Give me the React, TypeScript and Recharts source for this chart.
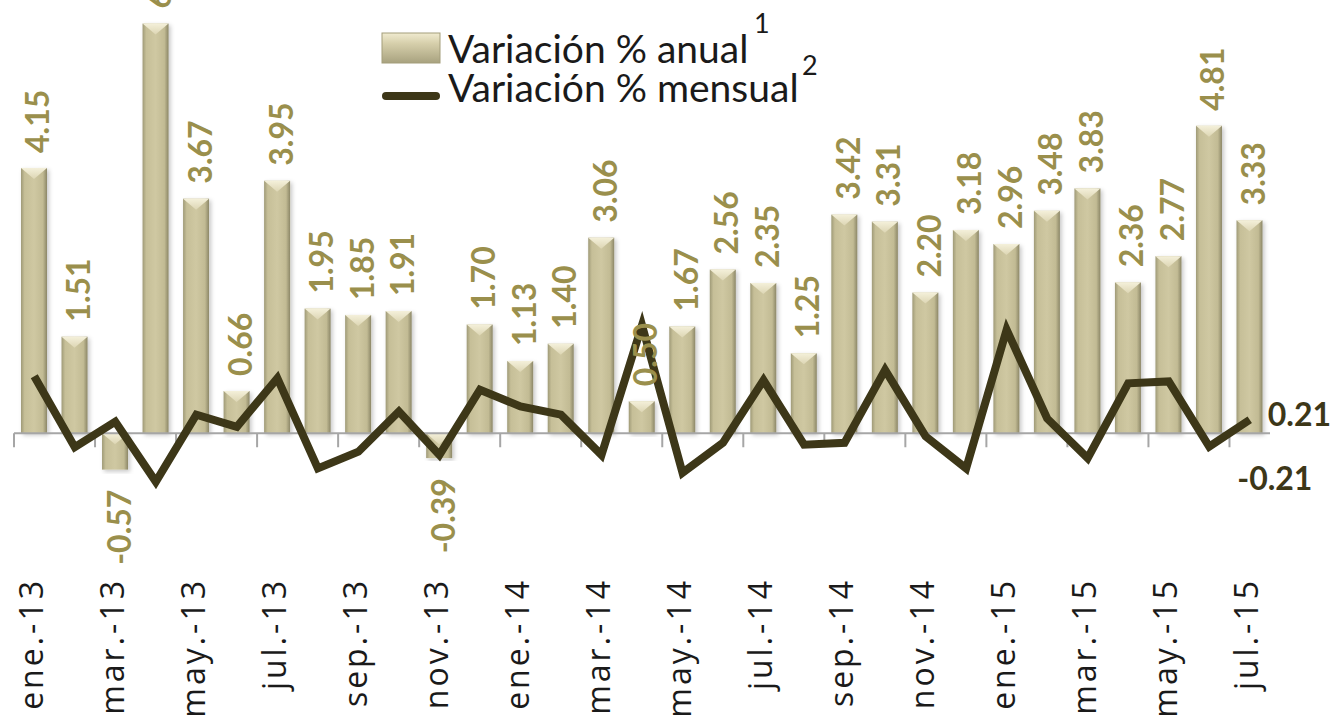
import { ComposedChart, Bar, Line, XAxis, YAxis, ReferenceLine, LabelList, Legend } from 'recharts';

const months = [
  'ene.-13', 'feb.-13', 'mar.-13', 'abr.-13', 'may.-13', 'jun.-13', 'jul.-13', 'ago.-13',
  'sep.-13', 'oct.-13', 'nov.-13', 'dic.-13', 'ene.-14', 'feb.-14', 'mar.-14', 'abr.-14',
  'may.-14', 'jun.-14', 'jul.-14', 'ago.-14', 'sep.-14', 'oct.-14', 'nov.-14', 'dic.-14',
  'ene.-15', 'feb.-15', 'mar.-15', 'abr.-15', 'may.-15', 'jun.-15', 'jul.-15',
];

// variación % anual (barras)
const annual = [
  4.15, 1.51, -0.57, 6.41, 3.67, 0.66, 3.95, 1.95, 1.85, 1.91, -0.39, 1.7, 1.13, 1.4, 3.06, 0.5,
  1.67, 2.56, 2.35, 1.25, 3.42, 3.31, 2.2, 3.18, 2.96, 3.48, 3.83, 2.36, 2.77, 4.81, 3.33,
];

// variación % mensual (línea)
const monthly = [
  0.89, -0.22, 0.18, -0.76, 0.29, 0.1, 0.86, -0.55, -0.29, 0.34, -0.34, 0.68, 0.42, 0.29, -0.34, 1.69,
  -0.62, -0.15, 0.83, -0.18, -0.15, 0.99, -0.05, -0.55, 1.62, 0.23, -0.39, 0.78, 0.81, -0.21, 0.21,
];

const tickMonths = months.filter((_, i) => i % 2 === 0);

const data = months.map((m, i) => ({ month: m, anual: annual[i], mensual: monthly[i] }));

const BAR_LABEL = '#9a8f4c';
const LINE_COLOR = '#3d3718';
const LABEL_FONT = 'Lato, "Open Sans", sans-serif';

function BevelBar(props: any) {
  const { x, y, width, height } = props;
  if (x == null || y == null) return null;
  const top = Math.min(y, y + height);
  const h = Math.abs(height);
  const bev = Math.min(11, h / 2);
  return (
    <g filter="url(#barShadow)">
      <rect x={x} y={top} width={width} height={h} fill="url(#barBody)" />
      <polygon
        points={`${x},${top} ${x + width},${top} ${x + width / 2},${top + bev}`}
        fill="url(#barTop)"
      />
    </g>
  );
}

function BarValue(props: any) {
  const { x, y, width, height, value } = props;
  if (value == null) return null;
  const cx = x + width / 2 + 3;
  const top = Math.min(y, y + height);
  const bottom = Math.max(y, y + height);
  const neg = value < 0;
  const ay = neg ? bottom + 20 : top - 15;
  return (
    <text
      x={cx}
      y={ay}
      transform={`rotate(-90, ${cx}, ${ay})`}
      textAnchor={neg ? 'end' : 'start'}
      dominantBaseline="central"
      fill={BAR_LABEL}
      fontFamily={LABEL_FONT}
      fontWeight={700}
      fontSize={32}
    >
      {Number(value).toFixed(2)}
    </text>
  );
}

function LineValue(props: any) {
  const { x, y, value, index } = props;
  if (index < months.length - 2) return null;
  const last = index === months.length - 1;
  return (
    <text
      x={x + (last ? 18 : 28)}
      y={y + (last ? -6 : 31)}
      dominantBaseline="central"
      fill={LINE_COLOR}
      fontFamily={LABEL_FONT}
      fontWeight={700}
      fontSize={32}
    >
      {Number(value).toFixed(2)}
    </text>
  );
}

function MonthTick(props: any) {
  const { x, y, payload } = props;
  return (
    <g transform={`translate(${x},${y})`}>
      <text
        x={-17}
        y={-4}
        transform="rotate(-90)"
        textAnchor="end"
        dominantBaseline="central"
        fill="#1a1a1a"
        fontFamily='"Open Sans", sans-serif'
        fontSize={32}
        letterSpacing={3}
      >
        {payload.value}
      </text>
    </g>
  );
}

function LegendBox() {
  return (
    <svg width={470} height={120} style={{ display: 'block' }}>
      <defs>
        <linearGradient id="legBar" x1="0" y1="0" x2="0" y2="1">
          <stop offset="0%" stopColor="#f0ebd0" />
          <stop offset="35%" stopColor="#d6cfab" />
          <stop offset="100%" stopColor="#a8a27f" />
        </linearGradient>
      </defs>
      <rect x={2} y={33} width={58} height={30} fill="url(#legBar)" stroke="#a39d7a" strokeWidth={1} />
      <line x1={6} y1={96} x2={56} y2={96} stroke={LINE_COLOR} strokeWidth={8} strokeLinecap="round" />
      <g fontFamily={LABEL_FONT} fill="#1a1a1a">
        <text x={68} y={63} fontSize={39}>Variación % anual</text>
        <text x={374} y={33} fontSize={27}>1</text>
        <text x={68} y={102} fontSize={39}>Variación % mensual</text>
        <text x={422} y={75} fontSize={27}>2</text>
      </g>
    </svg>
  );
}

export default function App() {
  return (
    <div style={{ position: 'absolute', left: 0, top: 0, width: 1341, height: 727, background: '#fff' }}>
      <ComposedChart
        width={1341}
        height={727}
        data={data}
        margin={{ top: 5, right: 71, left: 14, bottom: 6 }}
        barSize={26}
      >
        <defs>
          <linearGradient id="barBody" x1="0" y1="0" x2="1" y2="0">
            <stop offset="0%" stopColor="#9f9a77" />
            <stop offset="14%" stopColor="#c6bf98" />
            <stop offset="50%" stopColor="#cfc8a2" />
            <stop offset="84%" stopColor="#c2bb94" />
            <stop offset="100%" stopColor="#8c8767" />
          </linearGradient>
          <linearGradient id="barTop" x1="0" y1="0" x2="0" y2="1">
            <stop offset="0%" stopColor="#f4f0da" />
            <stop offset="100%" stopColor="#ddd6b4" />
          </linearGradient>
          <filter id="barShadow" x="-30%" y="-10%" width="160%" height="120%">
            <feDropShadow dx={2} dy={2} stdDeviation={2} floodColor="#000" floodOpacity={0.22} />
          </filter>
        </defs>
        <XAxis
          dataKey="month"
          interval={1}
          height={160}
          axisLine={false}
          tickLine={false}
          tickSize={0}
          tickMargin={0}
          tick={<MonthTick />}
        />
        <YAxis hide domain={[-2, 6.7]} />
        <ReferenceLine y={0} stroke="#a6a6a6" strokeWidth={2} />
        {tickMonths.map((m) => (
          <ReferenceLine
            key={m}
            segment={[{ x: m, y: 0 }, { x: m, y: -0.22 }]}
            position="start"
            stroke="#a6a6a6"
            strokeWidth={2}
          />
        ))}
        <Legend
          layout="vertical"
          align="center"
          verticalAlign="middle"
          wrapperStyle={{ top: 0, left: 380, width: 470 }}
          content={<LegendBox />}
        />
        <Bar dataKey="anual" name="Variación % anual" shape={<BevelBar />} isAnimationActive={false}>
          <LabelList dataKey="anual" content={<BarValue />} />
        </Bar>
        <Line
          type="linear"
          dataKey="mensual"
          name="Variación % mensual"
          stroke={LINE_COLOR}
          strokeWidth={8}
          strokeLinejoin="miter"
          dot={false}
          activeDot={false}
          isAnimationActive={false}
        >
          <LabelList dataKey="mensual" content={<LineValue />} />
        </Line>
      </ComposedChart>
    </div>
  );
}
